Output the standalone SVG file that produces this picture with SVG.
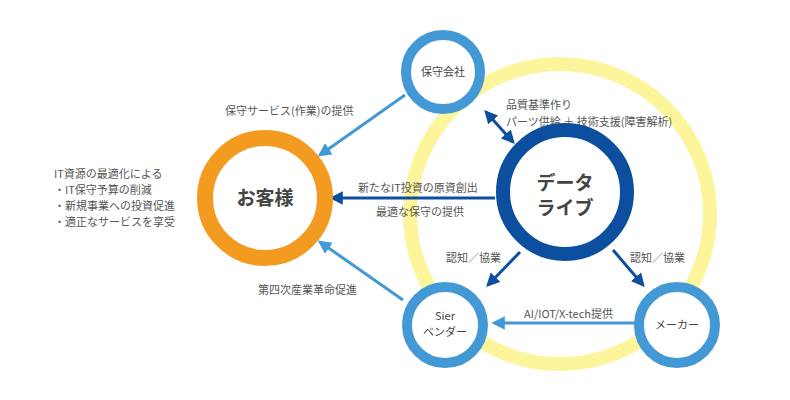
<svg xmlns="http://www.w3.org/2000/svg" width="790" height="400" viewBox="0 0 790 400">
<style>
text{font-family:"Noto Sans CJK JP","Noto Sans",sans-serif;fill:#555;font-size:11px}
.big{font-size:19px;font-weight:bold;fill:#444;text-anchor:middle}
.mid{font-size:11px;text-anchor:middle;fill:#444}
.lb{stroke:#4399d6;stroke-width:3;fill:none}
.db{stroke:#0d4f9f;stroke-width:3;fill:none}
</style>
<defs>
<marker id="ah" viewBox="0 0 10 10" refX="8" refY="5" markerWidth="4.5" markerHeight="4.5" orient="auto-start-reverse"><path d="M0,0L10,5L0,10z" fill="#4399d6"/></marker>
<marker id="ad" viewBox="0 0 10 10" refX="8" refY="5" markerWidth="4.5" markerHeight="4.5" orient="auto-start-reverse"><path d="M0,0L10,5L0,10z" fill="#0d4f9f"/></marker>
</defs>
<circle cx="560" cy="214" r="150" fill="none" stroke="#fdf59b" stroke-width="14"/>
<g id="connectors">
<line class="lb" x1="405" y1="95" x2="320" y2="155" marker-end="url(#ah)"/>
<line class="lb" x1="403" y1="300" x2="320" y2="242" marker-end="url(#ah)"/>
<line class="db" x1="495" y1="198" x2="332" y2="198" marker-end="url(#ad)"/>
<line class="db" x1="486" y1="112" x2="513" y2="142" marker-start="url(#ad)" marker-end="url(#ad)"/>
<line class="db" x1="520" y1="252" x2="488" y2="285" marker-end="url(#ad)"/>
<line class="db" x1="613" y1="250" x2="643" y2="285" marker-end="url(#ad)"/>
<line class="lb" x1="636" y1="323" x2="494" y2="323" marker-end="url(#ah)"/>
</g>
<text x="225" y="115">保守サービス(作業)の提供</text>
<text x="358" y="192">新たなIT投資の原資創出</text>
<text x="376" y="216">最適な保守の提供</text>
<text x="258" y="294">第四次産業革命促進</text>
<text x="506" y="109">品質基準作り</text>
<text x="506" y="126">パーツ供給 ＋ 技術支援(障害解析)</text>
<text x="446" y="262">認知／協業</text>
<text x="630" y="262">認知／協業</text>
<text x="524" y="318">AI/IOT/X-tech提供</text>
<text x="54" y="178">IT資源の最適化による</text>
<text x="54" y="194">・IT保守予算の削減</text>
<text x="54" y="210">・新規事業への投資促進</text>
<text x="54" y="226">・適正なサービスを享受</text>
<g id="hoshu"><circle cx="443" cy="72" r="37" fill="#fff" stroke="#4399d6" stroke-width="10"/><text class="mid" x="443" y="76">保守会社</text></g>
<g id="kyaku"><circle cx="265" cy="198" r="60" fill="#fff" stroke="#f39a20" stroke-width="16"/><text class="big" x="265" y="205">お客様</text></g>
<g id="datalive"><circle cx="565" cy="192" r="62" fill="#fff" stroke="#0d4f9f" stroke-width="14"/><text class="big" x="565" y="190">データ</text><text class="big" x="565" y="215">ライブ</text></g>
<g id="sier"><circle cx="445" cy="325" r="38" fill="#fff" stroke="#4399d6" stroke-width="10"/><text class="mid" x="445" y="320">Sier</text><text class="mid" x="445" y="336">ベンダー</text></g>
<g id="maker"><circle cx="677" cy="325" r="38" fill="#fff" stroke="#4399d6" stroke-width="10"/><text class="mid" x="677" y="329">メーカー</text></g>
</svg>
